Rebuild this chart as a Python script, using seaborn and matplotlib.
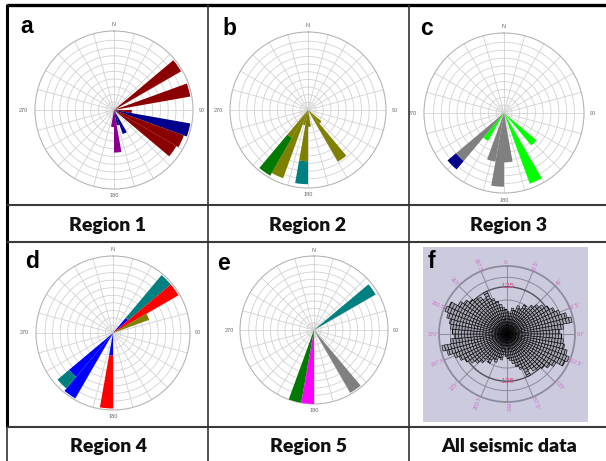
import numpy as np
import matplotlib
matplotlib.use("Agg")
import matplotlib.pyplot as plt
import seaborn as sns
from matplotlib.lines import Line2D
from matplotlib.patches import Rectangle

sns.set_theme(style="white")
plt.rcParams["font.family"] = ["Liberation Sans", "DejaVu Sans"]

W, H = 606, 461

# 10 degree bins: bin start (deg), bar top, bar base (stacked), class
a_bin = [50, 70, 90, 100, 110, 120, 150, 160, 170, 180]
a_top = [10, 10, 2.3, 10, 9.6, 9.3, 3.3, 2.0, 5.5, 2.2]
a_base = [0, 0, 0, 0, 0, 0, 0, 0, 0, 0]
a_cls = ["maroon", "maroon", "maroon", "navy", "maroon", "maroon", "navy", "navy", "purple", "purple"]

b_bin = [130, 140, 170, 180, 180, 190, 200, 210, 210]
b_top = [2.3, 7.8, 2.2, 6.7, 9.7, 2.0, 9.5, 4.2, 9.9]
b_base = [0, 0, 0, 0, 6.7, 0, 0, 0, 4.2]
b_cls = ["olive", "olive", "olive", "olive", "teal", "olive", "olive", "olive", "green"]

c_bin = [130, 150, 170, 180, 190, 210, 220, 220]
c_top = [5.4, 9.6, 6.3, 9.4, 6.3, 4.1, 8.0, 9.4]
c_base = [0, 0, 0, 0, 0, 0, 0, 8.0]
c_cls = ["lime", "lime", "gray", "gray", "gray", "lime", "gray", "navy"]

d_bin = [40, 40, 50, 60, 180, 180, 210, 220, 220]
d_top = [2.6, 10, 10, 5.1, 3.0, 10, 10, 7.6, 9.6]
d_base = [0, 2.6, 0, 0, 0, 3.0, 0, 0, 7.6]
d_cls = ["blue", "teal", "red", "olive", "blue", "red", "blue", "blue", "teal"]

e_bin = [50, 140, 180, 190]
e_top = [9.8, 10, 10.2, 10.2]
e_base = [0, 0, 0, 0]
e_cls = ["teal", "gray", "magenta", "green"]

# all seismic data, 5 degree bins 0-180 (axial data, plotted both ways)
f_half = [60, 55, 70, 65, 80, 75, 90, 85, 100, 110, 120, 130, 140, 150, 165, 175, 150, 140,
          145, 150, 155, 165, 175, 170, 150, 140, 130, 125, 120, 110, 125, 100, 90, 80, 70, 65]
f_ticks = ["0°", "22.5°", "45°", "67.5°", "90°", "112.5°", "135°", "157.5°",
           "180°", "202.5°", "225°", "247.5°", "270°", "292.5°", "315°", "337.5°"]

regions = ["Region 1", "Region 2", "Region 3", "Region 4", "Region 5", "All seismic data"]
letters = ["a", "b", "c", "d", "e", "f"]

pal = {"maroon": "#8b0000", "navy": "#00008b", "purple": "#8b008b", "olive": "#808000",
       "green": "#007a00", "teal": "#008080", "gray": "#808080", "lime": "#00ff00",
       "blue": "#0000ff", "red": "#ff0000", "magenta": "#ff00ff"}

fig = plt.figure(figsize=(W / 100, H / 100), dpi=100)


def px_axes(cx, cy, r):
    ax = fig.add_axes([(cx - r) / W, 1 - (cy + r) / H, 2 * r / W, 2 * r / H], projection="polar")
    ax.set_theta_zero_location("N")
    ax.set_theta_direction(-1)
    return ax


def rose(cx, cy, r, bins, top, base, cls):
    ax = px_axes(cx, cy, r)
    th = np.deg2rad(np.array(bins) + 5)
    hgt = np.array(top) - np.array(base)
    ax.bar(th, hgt, width=np.deg2rad(10), bottom=base, color=[pal[c] for c in cls],
           edgecolor="none", zorder=3)
    ax.set_ylim(0, 10.2)
    ax.set_rgrids(np.arange(1, 10), labels=[])
    ax.set_thetagrids(np.arange(0, 360, 15), labels=[])
    ax.grid(True, color="#d2d2d2", lw=0.6)
    ax.spines["polar"].set_color("#b5b5b5")
    ax.spines["polar"].set_linewidth(0.8)
    for t, rr, s in [(0, 11.0, "N"), (90, 11.3, "90"), (180, 11.1, "180"), (270, 11.7, "270")]:
        ax.text(np.deg2rad(t), rr, s, fontsize=4, color="#666666", ha="center", va="center")
    return ax


rose(114, 110, 79, a_bin, a_top, a_base, a_cls)
rose(308, 110, 78, b_bin, b_top, b_base, b_cls)
rose(504, 113, 80, c_bin, c_top, c_base, c_cls)
rose(113, 333, 77, d_bin, d_top, d_base, d_cls)
rose(314, 330, 74, e_bin, e_top, e_base, e_cls)

# panel f: lavender background box
fig.add_artist(Rectangle((423 / W, 1 - 422 / H), 165 / W, 175 / H, transform=fig.transFigure,
                         facecolor="#cbcbdd", edgecolor="none", zorder=0))
axf = px_axes(507, 334, 68)
axf.patch.set_alpha(0)
f_len = np.array(f_half + f_half)
f_th = np.deg2rad(np.arange(0, 360, 5) + 2.5)
step = 8
for k in range(0, int(f_len.max()) + step, step):
    h = np.clip(f_len - k, 0, step)
    m = h > 0
    axf.bar(f_th[m], h[m], width=np.deg2rad(5), bottom=k, facecolor="#a4a4b2",
            edgecolor="black", lw=0.4, zorder=3)
axf.set_ylim(0, 180)
axf.set_rgrids([45, 90, 150], labels=[])
axf.set_thetagrids(np.arange(0, 360, 22.5), labels=[])
axf.grid(True, color="#8a8a9c", lw=0.7)
axf.spines["polar"].set_color("#8a8a9c")
ring = np.linspace(0, 2 * np.pi, 300)
axf.plot(ring, np.full_like(ring, 125), color="#505060", lw=1.0, zorder=2)
for i, s in enumerate(f_ticks):
    ang = i * 22.5
    rot = 90 - ang
    if rot < -90:
        rot += 180
    axf.text(np.deg2rad(ang), 196, s, fontsize=4, color="#d070c8", rotation=rot,
             ha="center", va="center", clip_on=False)
for ang in [0, 180]:
    axf.text(np.deg2rad(ang), 125, "125", fontsize=6, color="#e0508a", ha="center",
             va="center", zorder=5)

# panel letters
for s, (x, y) in zip(letters, [(20, 33), (222, 35), (420, 35), (25, 268), (217, 270), (428, 268)]):
    fig.text(x / W, 1 - y / H, s, fontsize=16.5, fontweight="bold", color="black",
             ha="left", va="baseline")

# region labels
for s, (x, y) in zip(regions, [(108, 231), (308, 231), (509, 231), (108, 452), (309, 452), (509, 452)]):
    fig.text(x / W, 1 - y / H, s, fontsize=14, fontweight="heavy", family=["Lato", "DejaVu Sans"],
             color="#111111", ha="center", va="baseline")


# table lines
def line(x0, y0, x1, y1, lw, c):
    fig.add_artist(Line2D([x0 / W, x1 / W], [1 - y0 / H, 1 - y1 / H], lw=lw, color=c,
                          transform=fig.transFigure, solid_capstyle="butt"))


line(7, 5, 606, 5, 2.4, "black")
line(7, 4, 7, 427, 2.2, "black")
line(7, 427, 7, 461, 1.2, "#333333")
for y in [205, 242, 427]:
    line(7, y, 606, y, 1.5, "#3a3a3a")
for x in [208, 409]:
    line(x, 5, x, 461, 1.2, "#333333")

fig.savefig("out.png", dpi=100)
